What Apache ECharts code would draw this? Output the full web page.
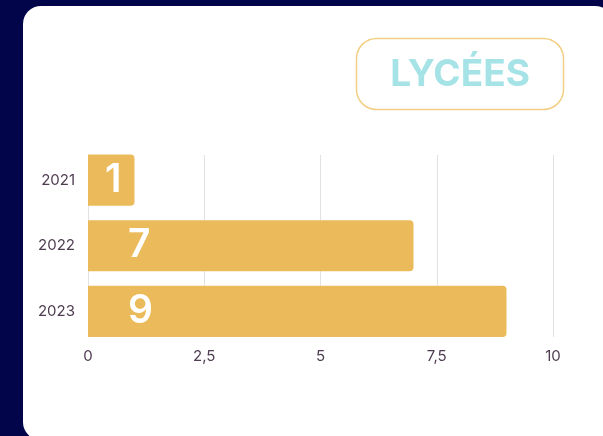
<!DOCTYPE html>
<html>
<head>
<meta charset="utf-8">
<script src="https://cdn.jsdelivr.net/npm/echarts@6/dist/echarts.min.js"></script>
<style>
  html, body { margin: 0; padding: 0; background: #03054a; }
  #chart { width: 603px; height: 436px; }
</style>
</head>
<body>
<div id="chart"></div>
<script>
// données
var annees = ['2021', '2022', '2023'];
var lycees = [1, 7, 9];
var ticksX = [0, 2.5, 5, 7.5, 10];

var chart = echarts.init(document.getElementById('chart'));

var barData = lycees.map(function (v) {
    var item = { value: v };
    // petite barre : chiffre centré
    if (v < 2) {
        item.label = { position: 'inside', offset: [2, 0] };
    }
    return item;
});

var xCommon = {
    type: 'value',
    min: ticksX[0],
    max: ticksX[ticksX.length - 1],
    interval: 2.5,
    axisLine: { show: false },
    axisTick: { show: false }
};

chart.setOption({
    backgroundColor: '#03054a',
    animation: false,
    graphic: [
        {
            type: 'rect',
            z: -10,
            shape: { x: 23, y: 6, width: 590, height: 434, r: 18 },
            style: { fill: '#ffffff' }
        },
        {
            type: 'rect',
            z: -5,
            shape: { x: 356.5, y: 38.5, width: 207, height: 71, r: 20 },
            style: { fill: '#ffffff', stroke: '#f3cf86', lineWidth: 1.5 }
        },
        {
            type: 'text',
            z: -4,
            x: 460,
            y: 75,
            style: {
                text: 'LYCÉES',
                fill: '#a5e3e7',
                font: 'bold 37px Inter',
                align: 'center',
                verticalAlign: 'middle'
            }
        }
    ],
    // grille 0 : barres ; grille 1 : lignes de repère et graduations
    grid: [
        { left: 88, right: 50, top: 147.25, bottom: 91.75 },
        { left: 88, right: 50, top: 155, bottom: 99 }
    ],
    xAxis: [
        Object.assign({}, xCommon, {
            gridIndex: 0,
            splitLine: { show: false },
            axisLabel: { show: false }
        }),
        Object.assign({}, xCommon, {
            gridIndex: 1,
            splitLine: { lineStyle: { color: '#e2e2e2', width: 1 } },
            axisLabel: {
                color: '#4e3c50',
                fontFamily: 'Inter',
                fontSize: 15,
                margin: 12,
                formatter: function (v) { return String(v).replace('.', ','); }
            }
        })
    ],
    yAxis: [
        {
            type: 'category',
            gridIndex: 0,
            data: annees,
            inverse: true,
            axisLine: { show: false },
            axisTick: { show: false },
            axisLabel: {
                color: '#4e3c50',
                fontFamily: 'Inter',
                fontSize: 15,
                margin: 13
            }
        },
        {
            type: 'category',
            gridIndex: 1,
            data: annees,
            show: false
        }
    ],
    series: [{
        type: 'bar',
        xAxisIndex: 0,
        yAxisIndex: 0,
        z: 3,
        data: barData,
        barCategoryGap: '22%',
        itemStyle: { color: '#ebbb5b', borderRadius: [0, 4, 4, 0] },
        label: {
            show: true,
            position: 'insideLeft',
            distance: 40,
            color: '#ffffff',
            fontFamily: 'Inter',
            fontWeight: 600,
            fontSize: 39
        }
    }]
});
</script>
</body>
</html>
